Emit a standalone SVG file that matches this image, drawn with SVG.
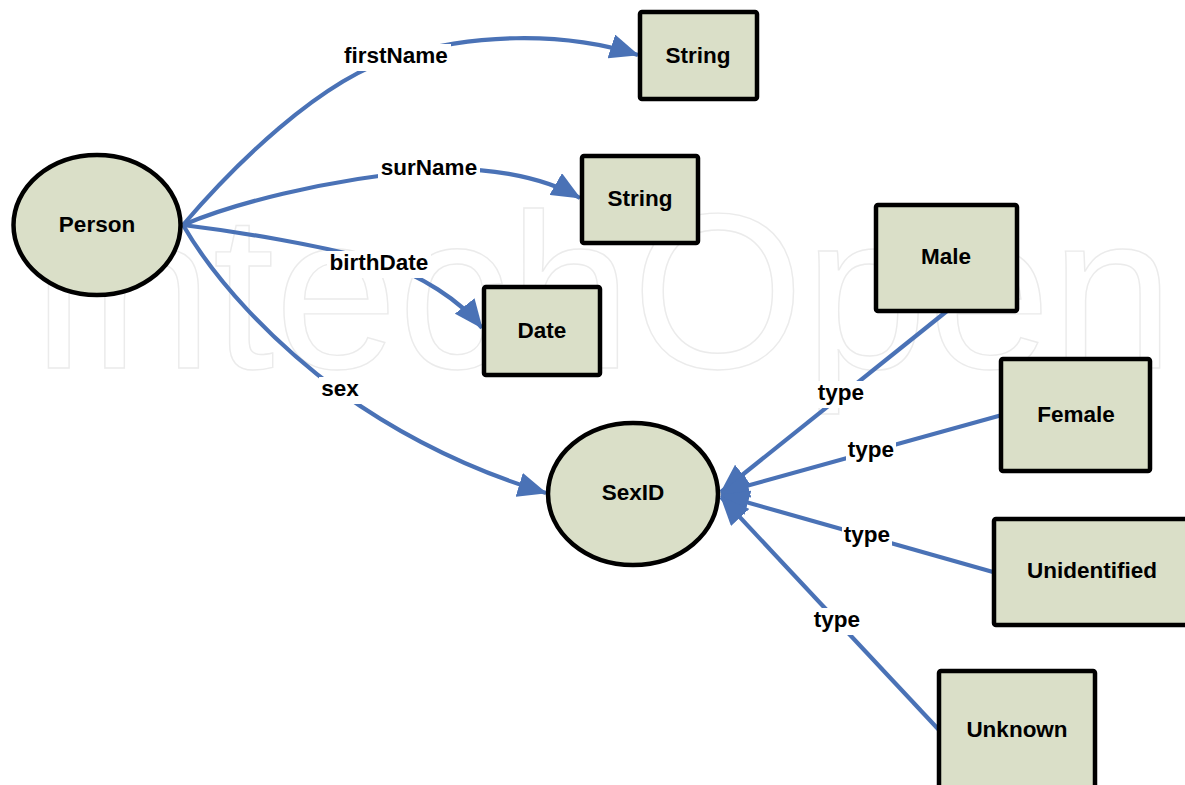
<svg xmlns="http://www.w3.org/2000/svg" width="1185" height="785" viewBox="0 0 1185 785">
  <style>
    .node { fill: #dadfc8; stroke: #000; stroke-width: 4.5; }
    .edge { fill: none; stroke: #4a72b6; stroke-width: 4.2; }
    .arrow { marker-end: url(#head); }
    .lbl-bg { fill: #fff; }
    text { font-family: "Liberation Sans", Arial, sans-serif; font-weight: bold; font-size: 22.5px; fill: #000; text-anchor: middle; }
    .wm { font-family: "Liberation Sans", Arial, sans-serif; font-weight: normal; font-size: 221px; fill: none; stroke: #ebebeb; stroke-width: 1.4; text-anchor: start; }
  </style>
  <defs>
    <marker id="head" markerUnits="userSpaceOnUse" markerWidth="29" markerHeight="25" viewBox="0 0 29 25" refX="28" refY="12.5" orient="auto">
      <path d="M0,0 L29,12.5 L0,25 z" fill="#4a72b6"/>
    </marker>
  </defs>

  <rect width="1185" height="785" fill="#fff"/>

  <!-- publisher watermark -->
  <text class="wm" x="28" y="368" textLength="1146" lengthAdjust="spacingAndGlyphs">IntechOpen</text>

  <!-- connectors -->
  <g id="edges">
    <path class="edge arrow" d="M183,225 C230,170 320,78 400,56 C470,35 560,30 638,55"/>
    <path class="edge arrow" d="M183,225 C230,205 320,180 430,170 C480,166 540,175 580,198"/>
    <path class="edge arrow" d="M183,225 C240,232 320,245 380,262 C420,275 460,300 482,328"/>
    <path class="edge arrow" d="M183,225 C215,280 270,340 340,392 C400,435 470,470 546,493"/>
    <path class="edge arrow" d="M947,311 L721,492"/>
    <path class="edge arrow" d="M1002,415 L721,493"/>
    <path class="edge arrow" d="M993,572 L721,495"/>
    <path class="edge arrow" d="M939,730 L721,497"/>

    <!-- edge labels -->
    <g id="lbl-firstName"><rect class="lbl-bg" x="341" y="44" width="110" height="27"/><text x="396" y="63">firstName</text></g>
    <g id="lbl-surName"><rect class="lbl-bg" x="378" y="156" width="102" height="27"/><text x="429" y="175">surName</text></g>
    <g id="lbl-birthDate"><rect class="lbl-bg" x="327" y="251" width="104" height="27"/><text x="379" y="270">birthDate</text></g>
    <g id="lbl-sex"><rect class="lbl-bg" x="319" y="377" width="42" height="27"/><text x="340" y="396">sex</text></g>
    <g id="lbl-type-male"><rect class="lbl-bg" x="816" y="381" width="50" height="27"/><text x="841" y="400">type</text></g>
    <g id="lbl-type-female"><rect class="lbl-bg" x="846" y="438" width="50" height="27"/><text x="871" y="457">type</text></g>
    <g id="lbl-type-unidentified"><rect class="lbl-bg" x="842" y="523" width="50" height="27"/><text x="867" y="542">type</text></g>
    <g id="lbl-type-unknown"><rect class="lbl-bg" x="812" y="608" width="50" height="27"/><text x="837" y="627">type</text></g>
  </g>

  <!-- nodes -->
  <g id="person"><ellipse class="node" cx="97" cy="225" rx="83.5" ry="70"/><text x="97" y="232">Person</text></g>
  <g id="string-first"><rect class="node" x="640" y="12" width="117" height="87" rx="2"/><text x="698" y="63">String</text></g>
  <g id="string-sur"><rect class="node" x="582" y="156" width="116" height="87" rx="2"/><text x="640" y="206">String</text></g>
  <g id="date"><rect class="node" x="484" y="287" width="116" height="88" rx="2"/><text x="542" y="338">Date</text></g>
  <g id="sexid"><ellipse class="node" cx="633" cy="494" rx="85" ry="71"/><text x="633" y="500">SexID</text></g>
  <g id="male"><rect class="node" x="876" y="205" width="141" height="106" rx="2"/><text x="946" y="264">Male</text></g>
  <g id="female"><rect class="node" x="1001" y="359" width="149" height="112" rx="2"/><text x="1076" y="422">Female</text></g>
  <g id="unidentified"><rect class="node" x="994" y="519" width="200" height="106" rx="2"/><text x="1092" y="578">Unidentified</text></g>
  <g id="unknown"><rect class="node" x="939" y="671" width="156" height="130" rx="2"/><text x="1017" y="737">Unknown</text></g>
</svg>
